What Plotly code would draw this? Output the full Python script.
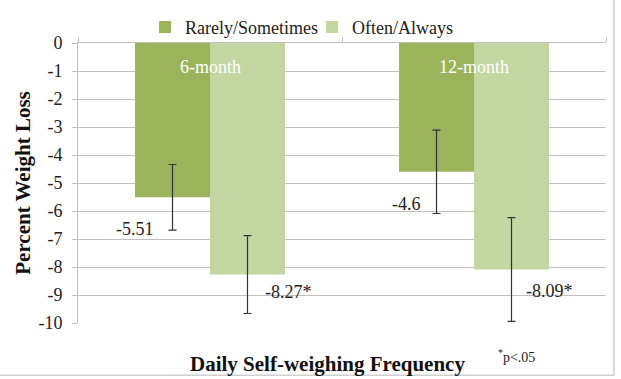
import plotly.graph_objects as go

categories = ["6-month", "12-month"]
series_names = ["Rarely/Sometimes", "Often/Always"]
rarely_values = [-5.51, -4.6]
often_values = [-8.27, -8.09]
rarely_err = [1.17, 1.49]
often_err = [1.39, 1.85]
rarely_labels = ["-5.51", "-4.6"]
often_labels = ["-8.27*", "-8.09*"]
y_tickvals = [0, -1, -2, -3, -4, -5, -6, -7, -8, -9, -10]
y_ticktext = ["0", "-1", "-2", "-3", "-4", "-5", "-6", "-7", "-8", "-9", "-10"]

FONT = "Liberation Serif"
DARK = "#9bb45c"
LIGHT = "#c4d6a2"
GRID = "#c0c0c0"

fig = go.Figure()
fig.add_trace(go.Bar(
    name=series_names[0], x=categories, y=rarely_values,
    marker=dict(color=DARK, line=dict(width=0)),
    error_y=dict(type="data", array=rarely_err, visible=True,
                 color="#333333", thickness=1.2, width=4),
))
fig.add_trace(go.Bar(
    name=series_names[1], x=categories, y=often_values,
    marker=dict(color=LIGHT, line=dict(width=0)),
    error_y=dict(type="data", array=often_err, visible=True,
                 color="#333333", thickness=1.2, width=4),
))

annotations = []
rarely_label_pos = [(-0.205, -6.64, "right"), (-0.193, -5.75, "right")]
often_label_pos = [(0.20, -8.88, "left"), (0.19, -8.85, "left")]
for i, (dx, yy, anc) in enumerate(rarely_label_pos):
    annotations.append(dict(x=i + dx, y=yy, xref="x", yref="y", text=rarely_labels[i],
                            showarrow=False, xanchor=anc, yanchor="middle",
                            font=dict(family=FONT, size=18, color="#222222")))
for i, (dx, yy, anc) in enumerate(often_label_pos):
    annotations.append(dict(x=i + dx, y=yy, xref="x", yref="y", text=often_labels[i],
                            showarrow=False, xanchor=anc, yanchor="middle",
                            font=dict(family=FONT, size=18, color="#222222")))
for i, c in enumerate(categories):
    annotations.append(dict(x=i, y=-0.87, xref="x", yref="y", text=c,
                            showarrow=False, xanchor="center", yanchor="middle",
                            font=dict(family=FONT, size=18, color="#ffffff")))
annotations.append(dict(x=0.4725, y=-0.145, xref="paper", yref="paper",
                        text="<b>Daily Self-weighing Frequency</b>", showarrow=False,
                        xanchor="center", yanchor="middle",
                        font=dict(family=FONT, size=21, color="#111111")))
annotations.append(dict(x=0.83, y=-0.117, xref="paper", yref="paper",
                        text="<sup>*</sup>p&lt;.05", showarrow=False,
                        xanchor="center", yanchor="middle",
                        font=dict(family=FONT, size=14, color="#222222")))

fig.update_layout(
    width=621, height=379,
    margin=dict(l=78, r=15, t=43, b=56, autoexpand=False),
    paper_bgcolor="white", plot_bgcolor="white",
    barmode="group", bargap=0.432, bargroupgap=0,
    font=dict(family=FONT, size=18, color="#222222"),
    showlegend=True,
    legend=dict(orientation="h", x=0.127, y=0.99, xanchor="left", yanchor="bottom",
                xref="paper", yref="paper",
                font=dict(family=FONT, size=18, color="#222222"),
                itemwidth=30, entrywidth=122, entrywidthmode="pixels",
                tracegroupgap=0, bgcolor="rgba(0,0,0,0)"),
    annotations=annotations,
    xaxis=dict(side="top", showticklabels=False, ticks="outside", tickson="boundaries",
               ticklen=5, tickcolor=GRID, showline=True, linecolor=GRID, linewidth=1,
               showgrid=False, zeroline=False, fixedrange=True),
    yaxis=dict(range=[-10, 0], tickvals=y_tickvals, ticktext=y_ticktext,
               ticks="outside", ticklen=5, tickcolor=GRID, showline=True,
               linecolor=GRID, linewidth=1, showgrid=True, gridcolor=GRID, gridwidth=1,
               zeroline=False, ticklabelstandoff=6,
               tickfont=dict(family=FONT, size=18, color="#222222"),
               title=dict(text="<b>Percent Weight Loss</b>", standoff=2,
                          font=dict(family=FONT, size=21, color="#111111"))),
    shapes=[
        dict(type="line", xref="paper", yref="paper", x0=-0.2, x1=1.0152, y0=-0.187, y1=-0.187,
             line=dict(color="#d0d0d0", width=1.5)),
        dict(type="line", xref="paper", yref="paper", x0=1.0152, x1=1.0152, y0=-0.187, y1=1.2,
             line=dict(color="#d0d0d0", width=1.5)),
    ],
)

fig.write_html("out.html")
